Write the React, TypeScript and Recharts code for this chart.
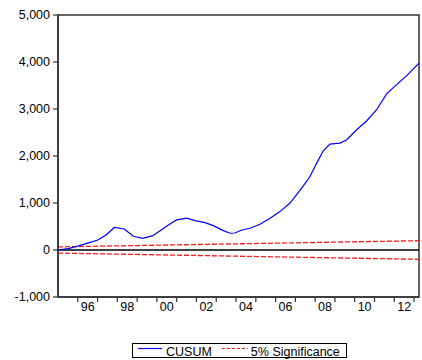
import { LineChart, Line, XAxis, YAxis, ReferenceLine, ReferenceArea } from 'recharts'

// CUSUM of recursive residuals, read at decimal-year positions
const cusumYears = [
  1995.0, 1995.57, 1996.08, 1996.58, 1997.01, 1997.43, 1997.85, 1998.35, 1998.52, 1998.81,
  1999.28, 1999.79, 2000.29, 2000.66, 2001.0, 2001.51, 2001.93, 2002.43, 2002.85, 2003.36,
  2003.7, 2003.95, 2004.29, 2004.71, 2005.21, 2005.72, 2006.22, 2006.73, 2007.32, 2007.74,
  2008.08, 2008.41, 2008.75, 2009.26, 2009.6, 2010.1, 2010.61, 2011.11, 2011.62, 2012.12,
  2012.63, 2013.25,
]
const cusumValues = [
  0, 36, 92, 156, 213, 320, 480, 448, 390, 292,
  249, 305, 448, 554, 640, 676, 625, 582, 518, 412,
  356, 362, 426, 462, 548, 676, 817, 1000, 1315, 1563,
  1849, 2110, 2254, 2275, 2345, 2559, 2751, 2985, 3326, 3518,
  3710, 3975,
]

// 5% significance bounds (straight lines between the end points)
const bandYears = [1995.0, 2013.25]
const bandUpper = [66, 198]
const bandLower = [-66, -198]

const yTicks = [-1000, 0, 1000, 2000, 3000, 4000, 5000]
const yearTicks = [1996, 1997, 1998, 1999, 2000, 2001, 2002, 2003, 2004, 2005, 2006, 2007, 2008, 2009, 2010, 2011, 2012, 2013]
const labelYears = [1996, 1998, 2000, 2002, 2004, 2006, 2008, 2010, 2012]

const cusumData = cusumYears.map((t, i) => ({ t, cusum: cusumValues[i] }))
const upperData = bandYears.map((t, i) => ({ t, v: bandUpper[i] }))
const lowerData = bandYears.map((t, i) => ({ t, v: bandLower[i] }))

// year-start ticks get a tick mark, mid-year ticks carry the 2-digit label
const xTicks = [...yearTicks, ...labelYears.map((y) => y + 0.5)].sort((a, b) => a - b)

const AXIS = '#333'
const SIG_RED = '#ff1a1a'

function YearTick({ x, y, payload }: any) {
  const v = payload.value as number
  if (Number.isInteger(v)) {
    return <line x1={x} x2={x} y1={y - 5} y2={y} stroke={AXIS} strokeWidth={1.2} />
  }
  const label = String(Math.floor(v) % 100).padStart(2, '0')
  return (
    <text x={x} y={y + 9} textAnchor="middle" fontSize={12.5} fill="#000">
      {label}
    </text>
  )
}

export default function App() {
  return (
    <div
      style={{
        position: 'absolute',
        left: 0,
        top: 0,
        width: 422,
        height: 360,
        background: '#fff',
        fontFamily: 'Arial, "Liberation Sans", sans-serif',
      }}
    >
      <LineChart width={422} height={360} margin={{ top: 15, right: 3, bottom: 33, left: 0 }}>
        <XAxis
          dataKey="t"
          type="number"
          domain={[1995, 2013.25]}
          allowDataOverflow
          ticks={xTicks}
          interval={0}
          tick={<YearTick />}
          tickLine={false}
          tickSize={5}
          tickMargin={0}
          height={30}
          axisLine={{ stroke: AXIS, strokeWidth: 1.5 }}
        />
        <YAxis
          type="number"
          domain={[-1000, 5000]}
          ticks={yTicks}
          interval={0}
          width={58}
          tickSize={5}
          tickMargin={3}
          tickFormatter={(v: number) => v.toLocaleString('en-US')}
          tick={{ fill: '#000', fontSize: 12.5 }}
          tickLine={{ stroke: AXIS, strokeWidth: 1.2 }}
          axisLine={{ stroke: AXIS, strokeWidth: 1.5 }}
        />
        <ReferenceArea
          x1={1995}
          x2={2013.25}
          y1={-1000}
          y2={5000}
          fill="none"
          fillOpacity={0}
          stroke={AXIS}
          strokeWidth={1.5}
        />
        <ReferenceLine y={0} stroke="#000" strokeWidth={1.5} />
        <Line
          data={upperData}
          dataKey="v"
          name="5% Significance"
          type="linear"
          stroke={SIG_RED}
          strokeWidth={1.3}
          strokeDasharray="5 2"
          dot={false}
          activeDot={false}
          isAnimationActive={false}
        />
        <Line
          data={lowerData}
          dataKey="v"
          name="5% Significance"
          type="linear"
          stroke={SIG_RED}
          strokeWidth={1.3}
          strokeDasharray="5 2"
          dot={false}
          activeDot={false}
          isAnimationActive={false}
        />
        <Line
          data={cusumData}
          dataKey="cusum"
          name="CUSUM"
          type="linear"
          stroke="#0000ff"
          strokeWidth={1.2}
          dot={false}
          activeDot={false}
          isAnimationActive={false}
        />
      </LineChart>

      {/* legend */}
      <div
        style={{
          position: 'absolute',
          left: 132,
          top: 343,
          width: 213,
          height: 13,
          border: '1px solid #000',
          fontSize: 12.5,
          lineHeight: '8px',
          color: '#000',
          display: 'flex',
          alignItems: 'flex-start',
          whiteSpace: 'nowrap',
        }}
      >
        <svg width={24} height={10} style={{ marginLeft: 5, marginTop: 0 }}>
          <line x1={0} x2={24} y1={4.5} y2={4.5} stroke="#0000ff" strokeWidth={1.2} />
        </svg>
        <span style={{ marginLeft: 4, display: 'inline-block', paddingTop: 4 }}>CUSUM</span>
        <svg width={26} height={10} style={{ marginLeft: 10 }}>
          <line x1={0} x2={26} y1={4.5} y2={4.5} stroke={SIG_RED} strokeWidth={1} strokeDasharray="3 2" />
        </svg>
        <span style={{ marginLeft: 3, display: 'inline-block', paddingTop: 4 }}>5% Significance</span>
      </div>
    </div>
  )
}
